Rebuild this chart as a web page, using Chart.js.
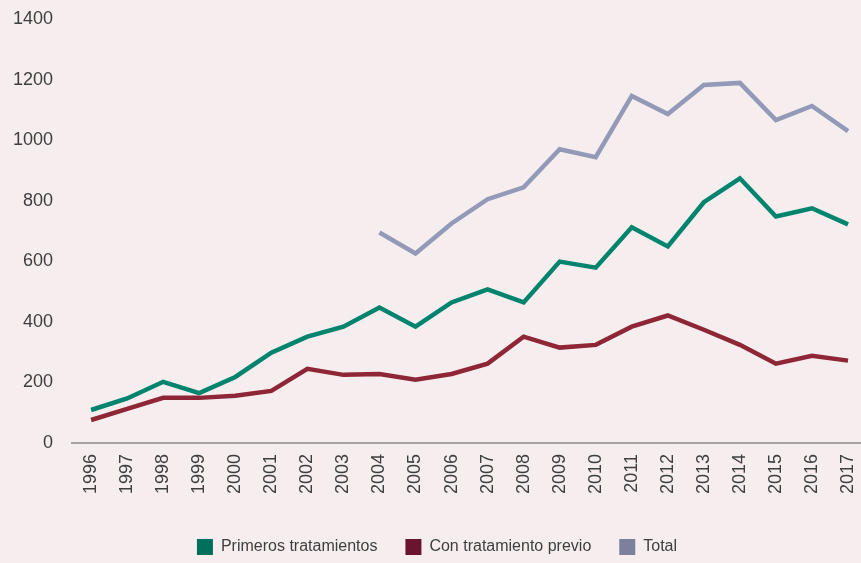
<!DOCTYPE html>
<html>
<head>
<meta charset="utf-8">
<script src="https://cdn.jsdelivr.net/npm/chart.js@4.4.1/dist/chart.umd.min.js"></script>
<style>
    html, body { margin: 0; padding: 0; background: #F6EDEF; }
    #wrap { width: 861px; height: 563px; }
</style>
</head>
<body>
<div id="wrap"><canvas id="myChart"></canvas></div>
<script>
const years = [1996, 1997, 1998, 1999, 2000, 2001, 2002, 2003, 2004, 2005, 2006,
    2007, 2008, 2009, 2010, 2011, 2012, 2013, 2014, 2015, 2016, 2017];

const primeros = [109, 147, 202, 165, 218, 298, 351, 384, 447, 384, 464,
    507, 464, 599, 579, 712, 649, 795, 874, 748, 775, 722];

const previo = [76, 113, 149, 149, 156, 172, 245, 225, 228, 209, 228,
    262, 351, 315, 324, 384, 421, 374, 324, 262, 288, 272];

// el total solo existe desde 2004
const total = [null, null, null, null, null, null, null, null, 695, 626, 725,
    805, 844, 970, 944, 1146, 1086, 1182, 1189, 1066, 1113, 1030];

const yTicks = [0, 200, 400, 600, 800, 1000, 1200, 1400];

const textColor = '#3E3E3E';
const fontFamily = '"Liberation Sans", Arial, sans-serif';

function toPoints(values) {
    return values.map((v, i) => ({ x: years[i], y: v }));
}

function makeDataset(label, values, lineColor, legendColor) {
    return {
        label: label,
        data: toPoints(values),
        borderColor: lineColor,
        backgroundColor: legendColor,
        borderWidth: 4.5,
        pointRadius: 0,
        tension: 0,
        spanGaps: false,
        borderJoinStyle: 'miter'
    };
}

new Chart(document.getElementById('myChart'), {
    type: 'line',
    data: {
        datasets: [
            makeDataset('Primeros tratamientos', primeros, '#00846E', '#006F5B'),
            makeDataset('Con tratamiento previo', previo, '#8E2636', '#6A1530'),
            makeDataset('Total', total, '#929AB7', '#7B809C')
        ]
    },
    options: {
        responsive: true,
        maintainAspectRatio: false,
        animation: false,
        layout: { padding: { left: 13, top: 19, right: 0, bottom: -2 } },
        plugins: {
            legend: {
                position: 'bottom',
                labels: {
                    boxWidth: 16,
                    boxHeight: 16,
                    padding: 28,
                    color: textColor,
                    font: { size: 16, family: fontFamily },
                    generateLabels: function(chart) {
                        const items = Chart.defaults.plugins.legend.labels.generateLabels(chart);
                        items.forEach(item => {
                            item.lineWidth = 0;
                            item.strokeStyle = 'transparent';
                        });
                        return items;
                    }
                }
            },
            tooltip: { enabled: false }
        },
        scales: {
            x: {
                type: 'linear',
                min: 1995.47,
                max: 2017.36,
                afterBuildTicks: axis => {
                    axis.ticks = years.map(v => ({ value: v }));
                },
                afterFit: axis => {
                    axis.paddingLeft = 0;
                    axis.paddingRight = 0;
                    axis.height = 68;
                },
                grid: { display: false, drawTicks: false },
                border: { display: true, color: '#A5A3A4', width: 2 },
                ticks: {
                    autoSkip: false,
                    minRotation: 90,
                    maxRotation: 90,
                    padding: 11,
                    color: textColor,
                    font: { size: 18, family: fontFamily },
                    callback: v => String(v)
                }
            },
            y: {
                min: 0,
                max: 1400,
                afterBuildTicks: axis => {
                    axis.ticks = yTicks.map(v => ({ value: v }));
                },
                afterFit: axis => {
                    axis.paddingTop = 0;
                    axis.paddingBottom = 0;
                    axis.width = 59;
                },
                grid: { display: false, drawTicks: false },
                border: { display: false },
                ticks: {
                    padding: 19,
                    color: textColor,
                    font: { size: 18, family: fontFamily },
                    callback: v => String(v)
                }
            }
        }
    }
});
</script>
</body>
</html>
